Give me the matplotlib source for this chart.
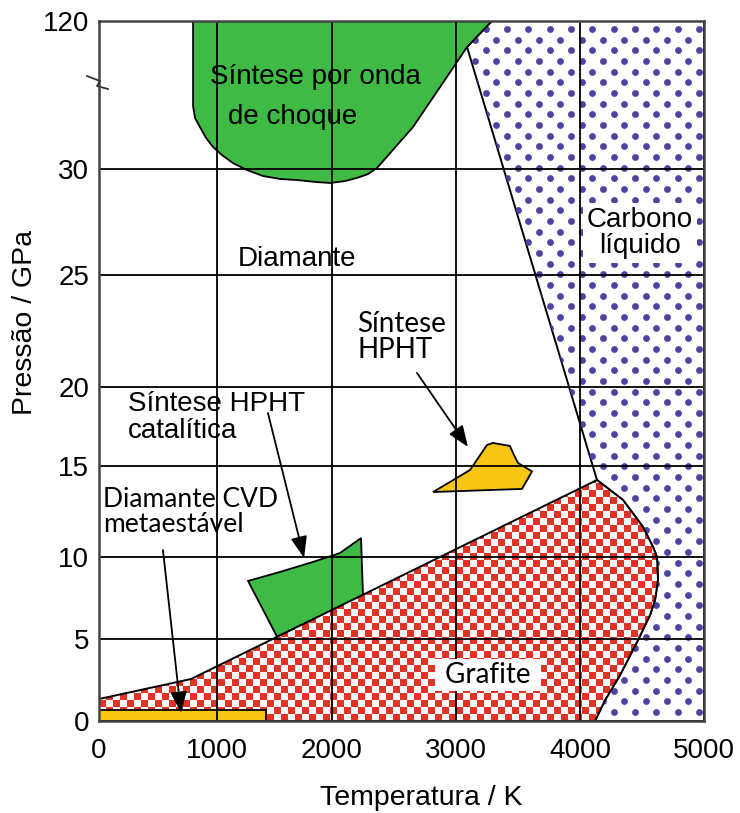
import numpy as np
import matplotlib
matplotlib.use('Agg')
import matplotlib.pyplot as plt
from matplotlib.patches import Polygon

plt.rcParams['font.family'] = ['Liberation Sans', 'DejaVu Sans']
SANS2 = ['Lato', 'Open Sans', 'DejaVu Sans']

# ticks dos eixos
temp_ticks = [0, 1000, 2000, 3000, 4000, 5000]
pres_ticks = [0, 5, 10, 15, 20, 25, 30, 120]

# fronteira diamante / grafite
linha_T = [0, 780, 4137]
linha_P = [1.34, 2.56, 14.23]
# fronteira diamante / liquido
liq_T = [3089, 4137]
liq_P = [104.2, 14.23]
# curva de fusao da grafite (ponto triplo -> P = 0)
fusao_T = [4137, 4347, 4508, 4589, 4621, 4629, 4605, 4565, 4468, 4323, 4202, 4121]
fusao_P = [14.23, 13.13, 11.65, 10.55, 10.0, 8.6, 7.38, 6.46, 4.94, 2.8, 1.28, 0]

# regioes de sintese
choque_T = [797, 797, 814, 856, 907, 966, 1043, 1139, 1261, 1400, 1548, 1696, 1852,
            1983, 2105, 2202, 2290, 2363, 2653, 2927, 3089, 3290]
choque_P = [120, 68.3, 61.0, 55.5, 48.9, 43.4, 38.5, 33.6, 29.95, 29.67, 29.53, 29.48, 29.39,
            29.34, 29.43, 29.58, 29.76, 30.6, 55.5, 86, 104.2, 120]
catal_T = [1270, 1548, 1835, 2065, 2234, 2250, 1522]
catal_P = [8.54, 9.09, 9.7, 10.22, 11.04, 7.67, 5.14]
hpht_T = [2815, 3113, 3250, 3298, 3435, 3460, 3500, 3613, 3532]
hpht_P = [13.57, 14.78, 16.33, 16.46, 16.27, 15.82, 15.19, 14.7, 13.74]
cvd_T = [0, 1430]
cvd_P = [0, 0.65]

verde = '#3fba45'
amarelo = '#f9c514'
vermelho = np.array([224, 51, 37]) / 255
azul = '#4a44a3'

# escala nao linear (como na figura original)
pos_T = [0, 118, 233, 357, 481, 605]
pos_P = [0, 82, 164, 255, 334, 446, 552, 700]


def fx(v):
    return np.interp(v, temp_ticks, pos_T)


def fx_inv(v):
    return np.interp(v, pos_T, temp_ticks)


def fy(v):
    return np.interp(v, pres_ticks, pos_P)


def fy_inv(v):
    return np.interp(v, pos_P, pres_ticks)


fig = plt.figure(figsize=(7.40, 8.13), dpi=100)
ax = fig.add_axes([99 / 740, 92 / 813, 605 / 740, 700 / 813])
ax.set_xscale('function', functions=(fx, fx_inv))
ax.set_yscale('function', functions=(fy, fy_inv))

# grafite (xadrez)
graf_T = [0] + linha_T + fusao_T[1:]
graf_P = [0] + linha_P + fusao_P[1:]
graf = Polygon(np.column_stack([graf_T, graf_P]), closed=True, fc=vermelho, ec='none', zorder=1)
ax.add_patch(graf)
H, W = 700, 605
yy, xx = np.mgrid[0:H, 0:W]
cel = 7.0
ux, uy = xx / cel, yy / cel
branco = (((np.floor(ux) + np.floor(uy)) % 2 == 0)
          & (ux - np.floor(ux) < 0.86) & (uy - np.floor(uy) < 0.86))
img = np.where(branco[..., None], np.ones(3), vermelho)
im = ax.imshow(img, extent=(0, 1, 0, 1), transform=ax.transAxes, aspect='auto',
               interpolation='nearest', zorder=1.05)
im.set_clip_path(graf)
ax.add_patch(Polygon(np.column_stack([graf_T, graf_P]), closed=True, fill=False,
                     ec='k', lw=1.4, zorder=1.3))

# carbono liquido (pontos)
liqd_T = [3290] + liq_T + fusao_T[1:] + [5000, 5000]
liqd_P = [120] + liq_P + fusao_P[1:] + [0, 120]
liqd = Polygon(np.column_stack([liqd_T, liqd_P]), closed=True, fc='white', ec='k', lw=1.4, zorder=0.9)
ax.add_patch(liqd)
px, py = [], []
for k in range(67):
    x0 = 2.7 if k % 2 == 0 else 13.4
    xs = np.arange(x0, W, 21.33)
    px.extend(xs / W)
    py.extend([1 - (8 + 10.67 * k) / H] * len(xs))
dots = ax.scatter(px, py, s=24, color=azul, lw=0, transform=ax.transAxes, zorder=1)
dots.set_clip_path(liqd)

# regioes de sintese
ax.fill(choque_T, choque_P, fc=verde, ec='k', lw=1.3, zorder=1)
ax.fill(catal_T, catal_P, fc=verde, ec='k', lw=1.3, zorder=1)
ax.fill(hpht_T, hpht_P, fc=amarelo, ec='k', lw=1.3, zorder=1)
ax.fill([cvd_T[0], cvd_T[1], cvd_T[1], cvd_T[0]], [cvd_P[0], cvd_P[0], cvd_P[1], cvd_P[1]],
        fc=amarelo, ec='k', lw=1.3, zorder=1.4)

ax.set_xlim(0, 5000)
ax.set_ylim(0, 120)
ax.set_xticks(temp_ticks)
ax.set_yticks(pres_ticks)
ax.set_xticklabels([str(t) for t in temp_ticks])
ax.set_yticklabels([str(p) for p in pres_ticks])
ax.tick_params(length=0, labelsize=20)
ax.tick_params(axis='x', pad=12)
ax.tick_params(axis='y', pad=7)
ax.grid(True, color='k', lw=1.3)
for s in ax.spines.values():
    s.set_color('#444444')
    s.set_linewidth(1.8)
    s.set_zorder(4)

ax.set_xlabel('Temperatura / K', fontsize=20.5, va='center')
ax.xaxis.set_label_coords(0.532, -0.11)
ax.set_ylabel('Pressão / GPa', fontsize=20.5, va='center')
ax.yaxis.set_label_coords(-0.122, 0.57)

# marca de quebra no eixo
bx = (np.array([87, 100, 97, 108]) - 99) / 605
by = (721 - np.array([76, 81, 86, 89])) / 700
ax.plot(bx, by, color='#333333', lw=1.3, transform=ax.transAxes, clip_on=False, zorder=5)

# textos
ax.text(1852, 85.9, 'Síntese por onda', fontsize=20, ha='center', va='center', zorder=3)
ax.text(1661, 61.6, 'de choque', fontsize=20, ha='center', va='center', zorder=3)
ax.text(1696, 25.75, 'Diamante', fontsize=20, ha='center', va='center', zorder=3)
ax.text(4484, 26.98, 'Carbono\nlíquido', fontsize=20, ha='center', va='center',
        linespacing=1.0, zorder=3,
        bbox=dict(boxstyle='square,pad=0.15', fc='white', ec='none'))
ax.text(246, 18.07, 'Síntese HPHT\ncatalítica', fontsize=20, ha='left', va='center',
        linespacing=1.05, zorder=3)
ax.text(2202, 22.25, 'Síntese\nHPHT', fontsize=20, family=SANS2, ha='left', va='center',
        linespacing=1.0, zorder=3)
ax.text(34, 12.45, 'Diamante CVD\nmetaestável', fontsize=19, family=SANS2, ha='left', va='center',
        linespacing=1.0, zorder=3)
ax.text(3258, 2.8, ' Grafite ', fontsize=20, family=SANS2, ha='center', va='center', zorder=3,
        bbox=dict(boxstyle='square,pad=0.12', fc='white', ec='none'))

seta = dict(arrowstyle='-|>,head_length=0.65,head_width=0.25', color='k', lw=1.3,
            shrinkA=0, shrinkB=0, mutation_scale=20)
ax.annotate('', xy=(3097, 16.2), xytext=(2685, 20.63), arrowprops=seta, zorder=3)
ax.annotate('', xy=(1757, 9.95), xytext=(1443, 18.35), arrowprops=seta, zorder=3)
ax.annotate('', xy=(695, 0.49), xytext=(542, 10.38), arrowprops=seta, zorder=3)

fig.savefig('out.png', dpi=100)
